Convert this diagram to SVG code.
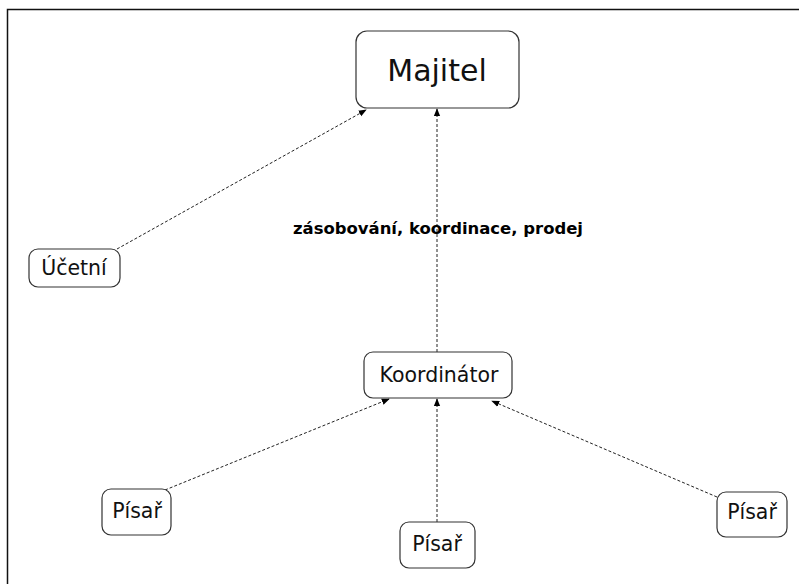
<svg xmlns="http://www.w3.org/2000/svg" width="799" height="584" viewBox="0 0 799 584">
<style>
.box{fill:#fff;stroke:#333;stroke-width:1.2}
.t{font-family:"DejaVu Sans","Verdana",sans-serif;font-size:20.5px;fill:#111;text-anchor:middle}
.big{font-size:30px}
.c{stroke:#222;stroke-width:1;stroke-dasharray:3,2;fill:none;marker-end:url(#ah)}
.lbl{font-family:"Comic Sans MS","DejaVu Sans",sans-serif;font-size:16.5px;font-weight:bold;fill:#000;text-anchor:middle}
</style>
<defs>
<marker id="ah" viewBox="0 0 10 10" refX="9" refY="5" markerWidth="8" markerHeight="8" markerUnits="userSpaceOnUse" orient="auto">
<path d="M0,1 L10,5 L0,9 Z" fill="#000"/>
</marker>
</defs>
<rect width="799" height="584" fill="#fff"/>
<path d="M7.5,584 V9.5 H799" fill="none" stroke="#111" stroke-width="1.5"/>
<g id="connectors">
<line class="c" x1="117" y1="249" x2="366" y2="110"/>
<line class="c" x1="437" y1="352" x2="437" y2="109"/>
<line class="c" x1="165" y1="490" x2="389" y2="399"/>
<line class="c" x1="437" y1="522" x2="437" y2="399"/>
<line class="c" x1="717" y1="497" x2="492" y2="401"/>
<text class="lbl" x="438" y="234" textLength="290" lengthAdjust="spacingAndGlyphs">zásobování, koordinace, prodej</text>
</g>
<g id="majitel">
<rect class="box" x="356" y="31" width="163" height="77" rx="11"/>
<text class="t big" x="437" y="81">Majitel</text>
</g>
<g id="ucetni">
<rect class="box" x="29" y="249" width="91" height="38" rx="9"/>
<text class="t" x="74" y="275">Účetní</text>
</g>
<g id="koordinator">
<rect class="box" x="364" y="352" width="148" height="46" rx="9"/>
<text class="t" x="439" y="382">Koordinátor</text>
</g>
<g id="pisar1">
<rect class="box" x="102" y="489" width="69" height="46" rx="9"/>
<text class="t" x="137" y="518">Písař</text>
</g>
<g id="pisar2">
<rect class="box" x="400" y="522" width="75" height="46" rx="9"/>
<text class="t" x="437" y="551">Písař</text>
</g>
<g id="pisar3">
<rect class="box" x="717" y="492" width="70" height="45" rx="9"/>
<text class="t" x="752" y="519">Písař</text>
</g>
</svg>
